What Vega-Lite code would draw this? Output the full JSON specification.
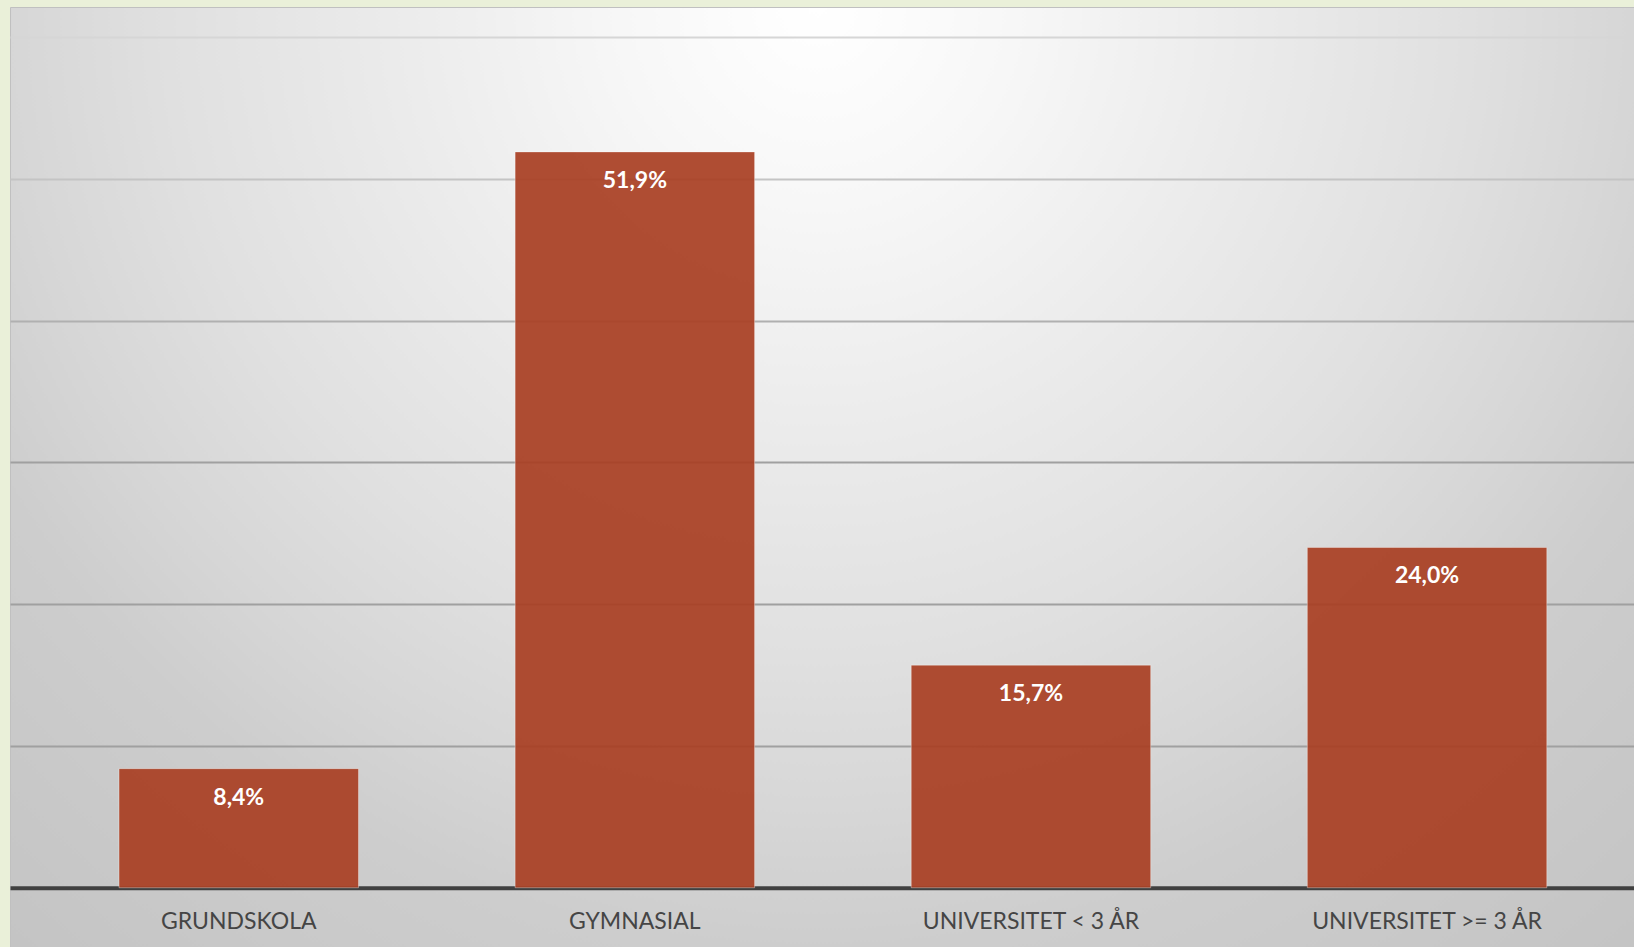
{
  "$schema": "https://vega.github.io/schema/vega-lite/v6.json",
  "width": 1624,
  "height": 940,
  "autosize": {"type": "none"},
  "padding": {"left": 10, "top": 7, "right": 0, "bottom": 0},
  "background": "#eaf0d9",
  "config": {
    "locale": {"number": {"decimal": ",", "thousands": "\u00a0", "grouping": [3], "currency": ["", " kr"]}},
    "view": {
      "fill": {
        "gradient": "radial",
        "x1": 0.497, "y1": 0.21, "r1": 0,
        "x2": 0.497, "y2": 0.21, "r2": 1,
        "stops": [
          {"offset": 0, "color": "#ffffff"},
          {"offset": 0.12, "color": "#f7f7f7"},
          {"offset": 0.25, "color": "#ececec"},
          {"offset": 0.4, "color": "#e0e0e0"},
          {"offset": 0.5, "color": "#d6d6d6"},
          {"offset": 0.58, "color": "#cdcdcd"},
          {"offset": 0.8, "color": "#c2c2c2"},
          {"offset": 1, "color": "#bdbdbd"}
        ]
      },
      "stroke": "#c0c0c0",
      "strokeWidth": 1
    }
  },
  "data": {
    "values": [
      {"utbildning": "GRUNDSKOLA", "andel": 0.084},
      {"utbildning": "GYMNASIAL", "andel": 0.519},
      {"utbildning": "UNIVERSITET < 3 ÅR", "andel": 0.157},
      {"utbildning": "UNIVERSITET >= 3 ÅR", "andel": 0.240}
    ]
  },
  "encoding": {
    "x": {
      "field": "utbildning",
      "type": "nominal",
      "sort": null,
      "scale": {"paddingInner": 0.3954, "paddingOuter": 0.2477, "align": 0.5556},
      "axis": {
        "title": null,
        "orient": "bottom",
        "offset": -59.3,
        "domainColor": "#404040",
        "domainWidth": 4,
        "ticks": false,
        "labelPadding": 23,
        "labelFont": "Lato",
        "labelFontSize": 23,
        "labelColor": "#454545",
        "labelAngle": 0,
        "labelLimit": 0,
        "grid": false
      }
    },
    "y": {
      "field": "andel",
      "type": "quantitative",
      "scale": {"domain": [-0.0418, 0.6212], "nice": false, "zero": false},
      "axis": {
        "title": null,
        "values": [0.1, 0.2, 0.3, 0.4, 0.5, 0.6],
        "labels": false,
        "ticks": false,
        "domain": false,
        "grid": true,
        "gridWidth": 2,
        "gridColor": {
          "condition": [
            {"test": "datum.value > 0.55", "value": "#d6d6d6"},
            {"test": "datum.value > 0.45", "value": "#c4c4c4"},
            {"test": "datum.value > 0.35", "value": "#b0b0b0"}
          ],
          "value": "#a0a0a0"
        }
      }
    }
  },
  "layer": [
    {
      "mark": {"type": "bar", "fill": "#a94023", "fillOpacity": 0.93, "stroke": "#ffffff", "strokeOpacity": 0.35, "strokeWidth": 1},
      "encoding": {"y2": {"datum": 0}}
    },
    {
      "mark": {"type": "text", "font": "Lato", "fontWeight": "bold", "fontSize": 23, "fill": "#ffffff", "baseline": "alphabetic", "dy": 36},
      "encoding": {"text": {"field": "andel", "type": "quantitative", "format": ".1%"}}
    }
  ]
}
